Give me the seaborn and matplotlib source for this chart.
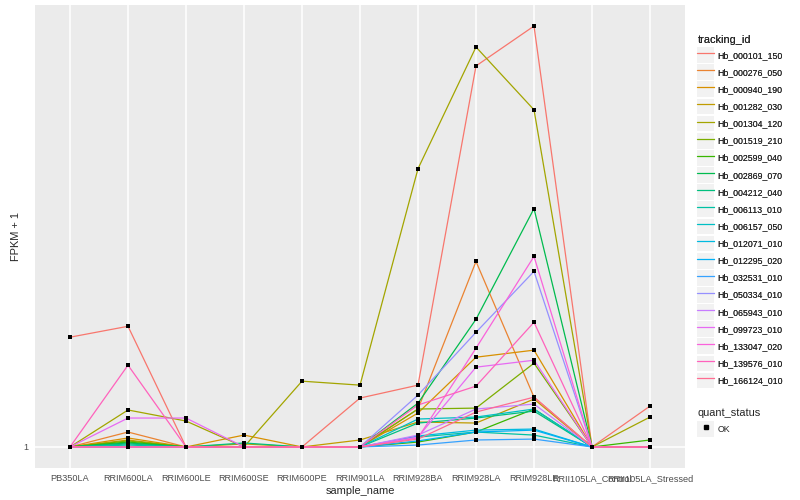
import numpy as np
import pandas as pd
import seaborn as sns
import matplotlib
matplotlib.use('Agg')
import matplotlib.pyplot as plt
from matplotlib.lines import Line2D
from matplotlib.patches import Rectangle
from matplotlib.legend_handler import HandlerLine2D
from matplotlib.ticker import NullLocator

samples = ['PB350LA', 'RRIM600LA', 'RRIM600LE', 'RRIM600SE', 'RRIM600PE', 'RRIM901LA',
           'RRIM928BA', 'RRIM928LA', 'RRIM928LE', 'RRII105LA_Control', 'RRII105LA_Stressed']

tracking_ids = ['Hb_000101_150', 'Hb_000276_050', 'Hb_000940_190', 'Hb_001282_030',
                'Hb_001304_120', 'Hb_001519_210', 'Hb_002599_040', 'Hb_002869_070',
                'Hb_004212_040', 'Hb_006113_010', 'Hb_006157_050', 'Hb_012071_010',
                'Hb_012295_020', 'Hb_032531_010', 'Hb_050334_010', 'Hb_065943_010',
                'Hb_099723_010', 'Hb_133047_020', 'Hb_139576_010', 'Hb_166124_010']

# ggplot hue palette, 20 levels
colors = ['#F8766D', '#EA8331', '#D89000', '#C09B00', '#A3A500', '#7CAE00', '#39B600',
          '#00BB4E', '#00BF7D', '#00C1A3', '#00BFC4', '#00BAE0', '#00B0F6', '#35A2FF',
          '#9590FF', '#C77CFF', '#E76BF3', '#FA62DB', '#FF62BC', '#FF6C91']

# FPKM + 1 per sample (same order as samples)
hb_000101_150 = [1.774, 1.878, 1, 1, 1, 1.291, 1.381, 7.315, 9.01, 1, 1.238]
hb_000276_050 = [1, 1.081, 1, 1, 1, 1, 1.219, 2.635, 1.297, 1, 1]
hb_000940_190 = [1, 1.048, 1, 1.064, 1, 1, 1.194, 1.598, 1.658, 1, 1]
hb_001282_030 = [1, 1.037, 1, 1.016, 1, 1.037, 1.139, 1.133, 1.284, 1, 1]
hb_001304_120 = [1, 1.213, 1.145, 1, 1.410, 1.381, 4.277, 8.075, 5.817, 1, 1.169]
hb_001519_210 = [1, 1.032, 1, 1, 1, 1, 1.219, 1.225, 1.549, 1, 1]
hb_002599_040 = [1, 1.026, 1, 1, 1, 1, 1.026, 1.081, 1.219, 1, 1.037]
hb_002869_070 = [1, 1.021, 1, 1, 1, 1, 1.257, 1.948, 3.473, 1, 1]
hb_004212_040 = [1, 1.016, 1, 1.021, 1, 1, 1.133, 1.163, 1.206, 1, 1]
hb_006113_010 = [1, 1.01, 1, 1, 1, 1, 1.053, 1.081, 1.064, 1, 1]
hb_006157_050 = [1, 1, 1, 1, 1, 1, 1.157, 1.169, 1.219, 1, 1]
hb_012071_010 = [1, 1, 1, 1, 1, 1, 1.059, 1.092, 1.098, 1, 1]
hb_012295_020 = [1, 1, 1, 1, 1, 1, 1.032, 1.081, 1.092, 1, 1]
hb_032531_010 = [1, 1, 1, 1, 1, 1, 1.01, 1.037, 1.042, 1, 1]
hb_050334_010 = [1, 1, 1, 1, 1, 1, 1.311, 1.820, 2.502, 1, 1]
hb_065943_010 = [1, 1, 1, 1, 1, 1, 1.064, 1.219, 1.251, 1, 1]
hb_099723_010 = [1, 1.163, 1.163, 1, 1, 1, 1.053, 1.517, 1.573, 1, 1]
hb_133047_020 = [1, 1, 1, 1, 1, 1, 1.048, 1.675, 2.705, 1, 1]
hb_139576_010 = [1, 1.533, 1, 1, 1, 1, 1.245, 1.374, 1.918, 1, 1]
hb_166124_010 = [1, 1, 1, 1, 1, 1, 1.042, 1.2, 1.297, 1, 1]

values = [hb_000101_150, hb_000276_050, hb_000940_190, hb_001282_030, hb_001304_120,
          hb_001519_210, hb_002599_040, hb_002869_070, hb_004212_040, hb_006113_010,
          hb_006157_050, hb_012071_010, hb_012295_020, hb_032531_010, hb_050334_010,
          hb_065943_010, hb_099723_010, hb_133047_020, hb_139576_010, hb_166124_010]

rows = []
for tid, vals in zip(tracking_ids, values):
    for s, v in zip(samples, vals):
        rows.append({'tracking_id': tid, 'sample_name': s, 'fpkm1': v, 'quant_status': 'OK'})
df = pd.DataFrame(rows)
pal = dict(zip(tracking_ids, colors))

sns.set_style('white')
plt.rcParams['font.family'] = ['Liberation Sans', 'DejaVu Sans']

fig, ax = plt.subplots(figsize=(8, 5), dpi=100)
fig.subplots_adjust(left=0.044, right=0.856, top=0.99, bottom=0.064)
ax.set_facecolor('#EBEBEB')

sns.lineplot(data=df, x='sample_name', y='fpkm1', hue='tracking_id', hue_order=tracking_ids,
             palette=pal, estimator=None, sort=False, legend=False, linewidth=0.9, ax=ax)
sns.scatterplot(data=df, x='sample_name', y='fpkm1', color='black', marker='s', s=8,
                linewidth=0, legend=False, ax=ax, zorder=3)

ax.set_yscale('log')
lo, hi = np.log10(df['fpkm1'].min()), np.log10(df['fpkm1'].max())
pad = (hi - lo) * 0.05
ax.set_ylim(10 ** (lo - pad), 10 ** (hi + pad))
ax.set_yticks([1])
ax.set_yticklabels(['1'])
ax.yaxis.set_minor_locator(NullLocator())
ax.set_xlim(-0.6, len(samples) - 0.4)

ax.grid(True, color='white', linewidth=1.1)
ax.set_axisbelow(True)
for sp in ax.spines.values():
    sp.set_visible(False)
ax.tick_params(length=2.5, width=0.8, color='#333333', labelcolor='#4D4D4D',
               labelsize=6.6, pad=2)
ax.set_xlabel('sample_name', fontsize=7.9, labelpad=2)
ax.set_ylabel('FPKM + 1', fontsize=7.9, labelpad=2)


class KeyHandler(HandlerLine2D):
    def create_artists(self, legend, orig_handle, xdescent, ydescent, width, height,
                       fontsize, trans):
        arts = super().create_artists(legend, orig_handle, xdescent, ydescent, width,
                                      height, fontsize, trans)
        rect = Rectangle((-xdescent, -ydescent - 0.7), width, height + 1.4,
                         facecolor='#F2F2F2', edgecolor='none', transform=trans)
        return [rect] + arts


handles = [Line2D([0], [0], color=c, lw=0.9) for c in colors]
leg1 = fig.legend(handles, tracking_ids, loc='upper left', bbox_to_anchor=(0.862, 0.946),
                  frameon=False, title='tracking_id', fontsize=6.3, title_fontsize=7.9,
                  handlelength=1.9, handleheight=2.05, labelspacing=0.38, handletextpad=0.4,
                  alignment='left', handler_map={Line2D: KeyHandler()})

ok = Line2D([0], [0], marker='s', color='black', linestyle='none', markersize=2.5)
leg2 = fig.legend([ok], ['OK'], loc='upper left', bbox_to_anchor=(0.862, 0.2),
                  frameon=False, title='quant_status', fontsize=6.3, title_fontsize=7.9,
                  handlelength=1.9, handleheight=2.05, handletextpad=0.4,
                  alignment='left', handler_map={Line2D: KeyHandler()})
fig.add_artist(leg1)

fig.savefig('out.png', dpi=100)
